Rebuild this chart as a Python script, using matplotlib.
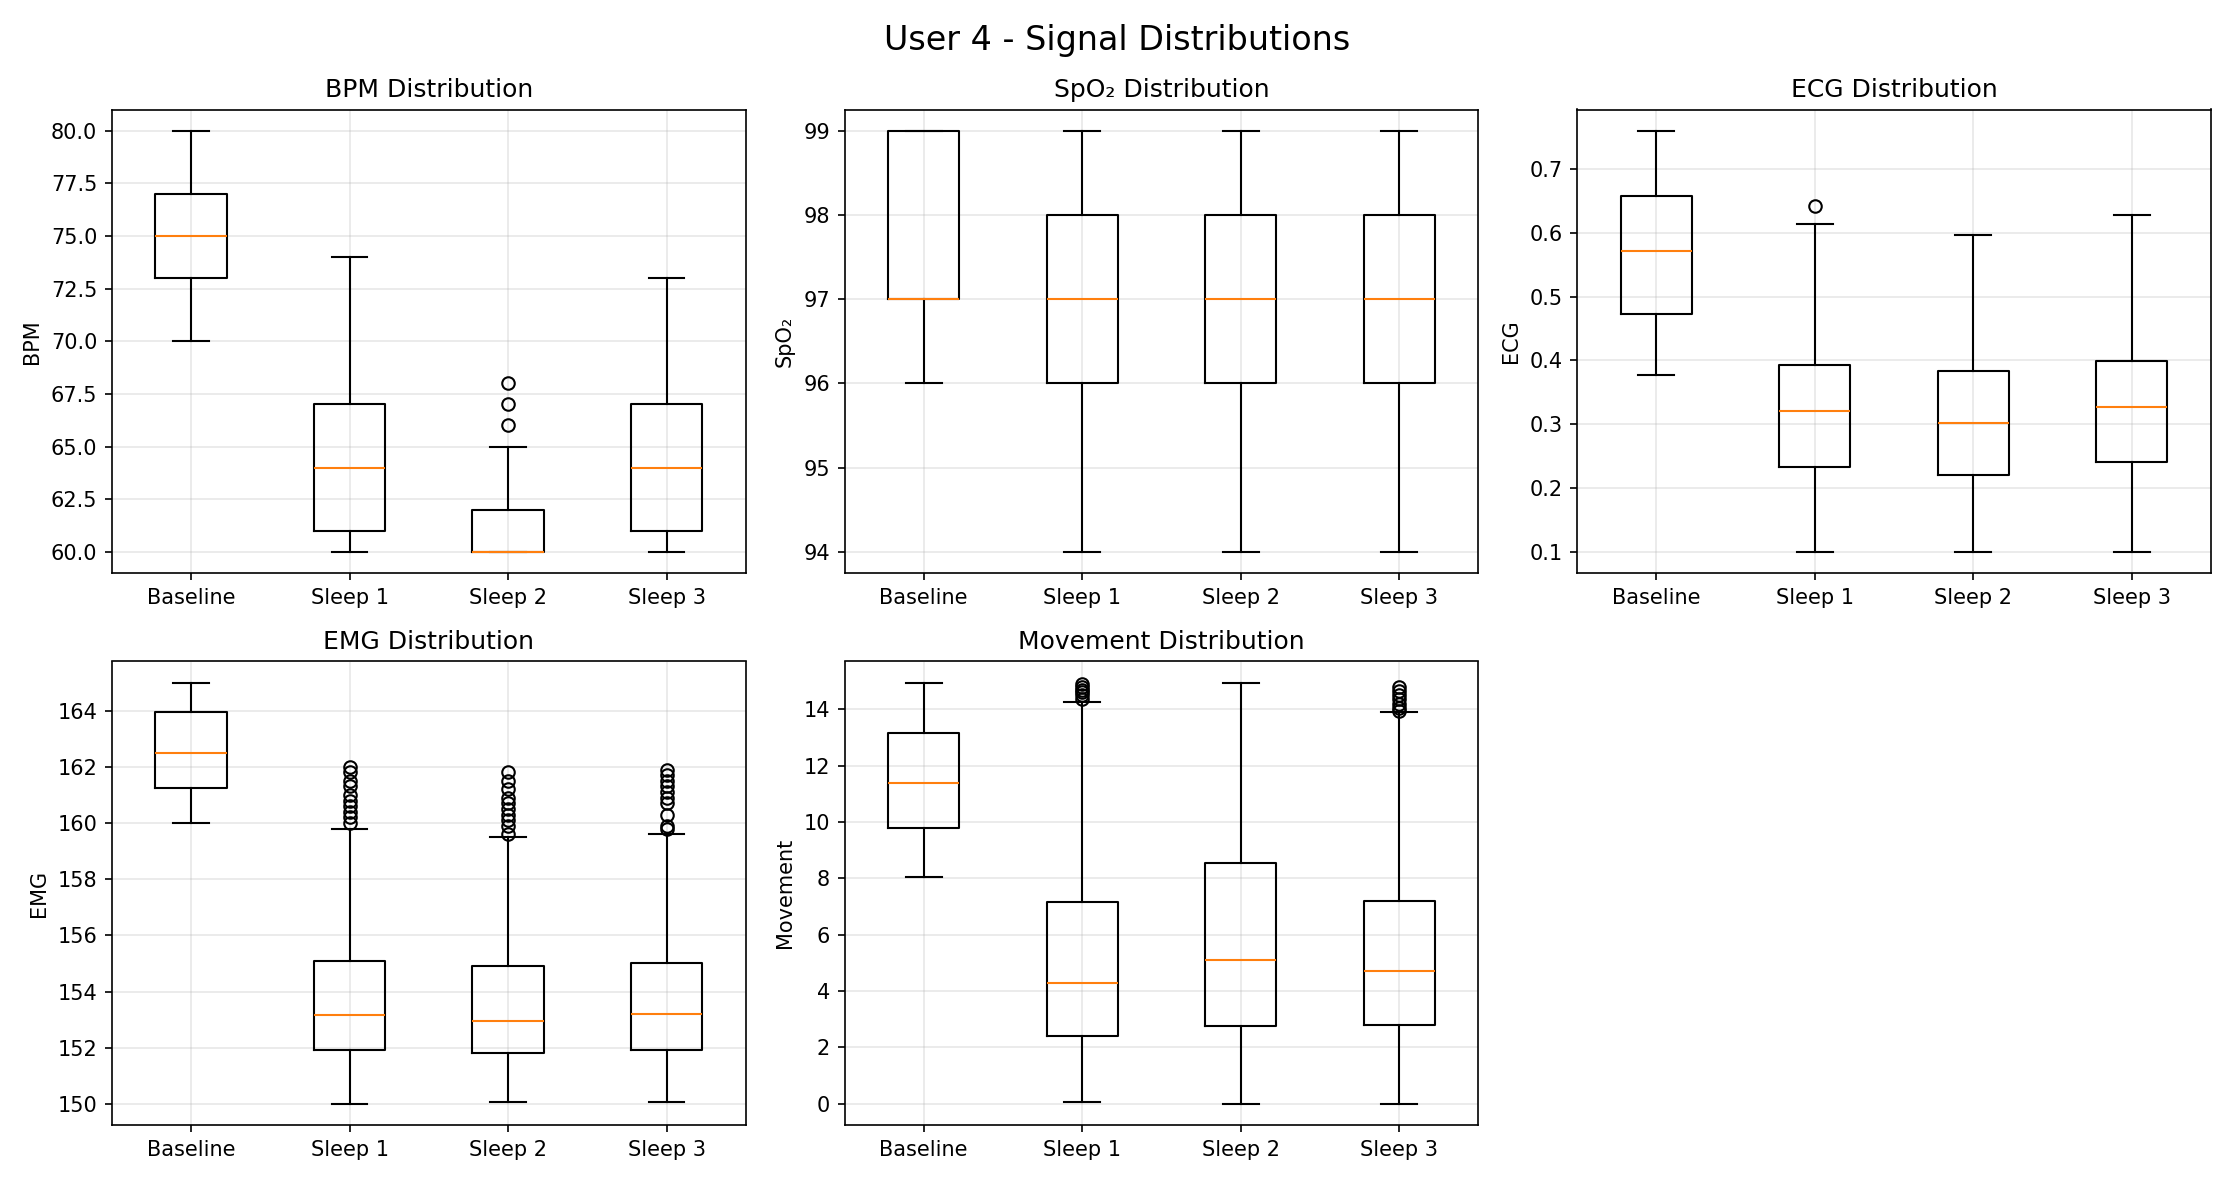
import matplotlib
matplotlib.use("Agg")
import matplotlib.pyplot as plt

labels = ["Baseline", "Sleep 1", "Sleep 2", "Sleep 3"]
# each: (whislo, q1, med, q3, whishi)
bpm = [(70, 73, 75, 77, 80), (60, 61, 64, 67, 74), (60, 60, 60, 62, 65), (60, 61, 64, 67, 73)]
bpm_fl = [[], [], [66, 67, 68], []]
spo2 = [(96, 97, 97, 99, 99), (94, 96, 97, 98, 99), (94, 96, 97, 98, 99), (94, 96, 97, 98, 99)]
spo2_fl = [[], [], [], []]
ecg = [(0.377, 0.473, 0.571, 0.657, 0.76), (0.1, 0.233, 0.32, 0.392, 0.614),
       (0.1, 0.22, 0.302, 0.383, 0.597), (0.1, 0.24, 0.327, 0.399, 0.628)]
ecg_fl = [[], [0.642], [], []]
emg = [(160, 161.25, 162.5, 163.95, 165), (150, 151.9, 153.15, 155.1, 159.8),
       (150.05, 151.8, 152.95, 154.9, 159.5), (150.05, 151.9, 153.2, 155.0, 159.6)]
emg_fl = [[],
          [160.0, 160.2, 160.4, 160.6, 160.8, 161.0, 161.3, 161.5, 161.8, 162.0],
          [159.6, 159.9, 160.1, 160.3, 160.5, 160.7, 160.9, 161.2, 161.5, 161.8],
          [159.8, 159.9, 160.3, 160.7, 160.9, 161.1, 161.3, 161.5, 161.7, 161.9]]
mov = [(8.05, 9.8, 11.4, 13.15, 14.95), (0.05, 2.4, 4.3, 7.15, 14.25),
       (0.0, 2.75, 5.1, 8.55, 14.95), (0.0, 2.8, 4.7, 7.2, 13.9)]
mov_fl = [[], [14.35, 14.5, 14.6, 14.7, 14.8, 14.9], [],
          [13.95, 14.05, 14.2, 14.35, 14.5, 14.65, 14.8]]

panels = [("BPM Distribution", "BPM", bpm, bpm_fl),
          ("SpO₂ Distribution", "SpO₂", spo2, spo2_fl),
          ("ECG Distribution", "ECG", ecg, ecg_fl),
          ("EMG Distribution", "EMG", emg, emg_fl),
          ("Movement Distribution", "Movement", mov, mov_fl)]

fig, axes = plt.subplots(2, 3, figsize=(14.89, 7.88), dpi=150)
axes = axes.flatten()
for ax, (title, ylab, stats, fl) in zip(axes, panels):
    bx = []
    for lab, s, f in zip(labels, stats, fl):
        bx.append(dict(label=lab, whislo=s[0], q1=s[1], med=s[2], q3=s[3], whishi=s[4], fliers=f))
    ax.bxp(bx, showfliers=True)
    ax.set_title(title, fontsize=12)
    ax.set_ylabel(ylab)
    ax.grid(True, alpha=0.3)
axes[5].axis("off")
fig.suptitle("User 4 - Signal Distributions", fontsize=16)
fig.tight_layout()
fig.savefig("out.png", dpi=150)
